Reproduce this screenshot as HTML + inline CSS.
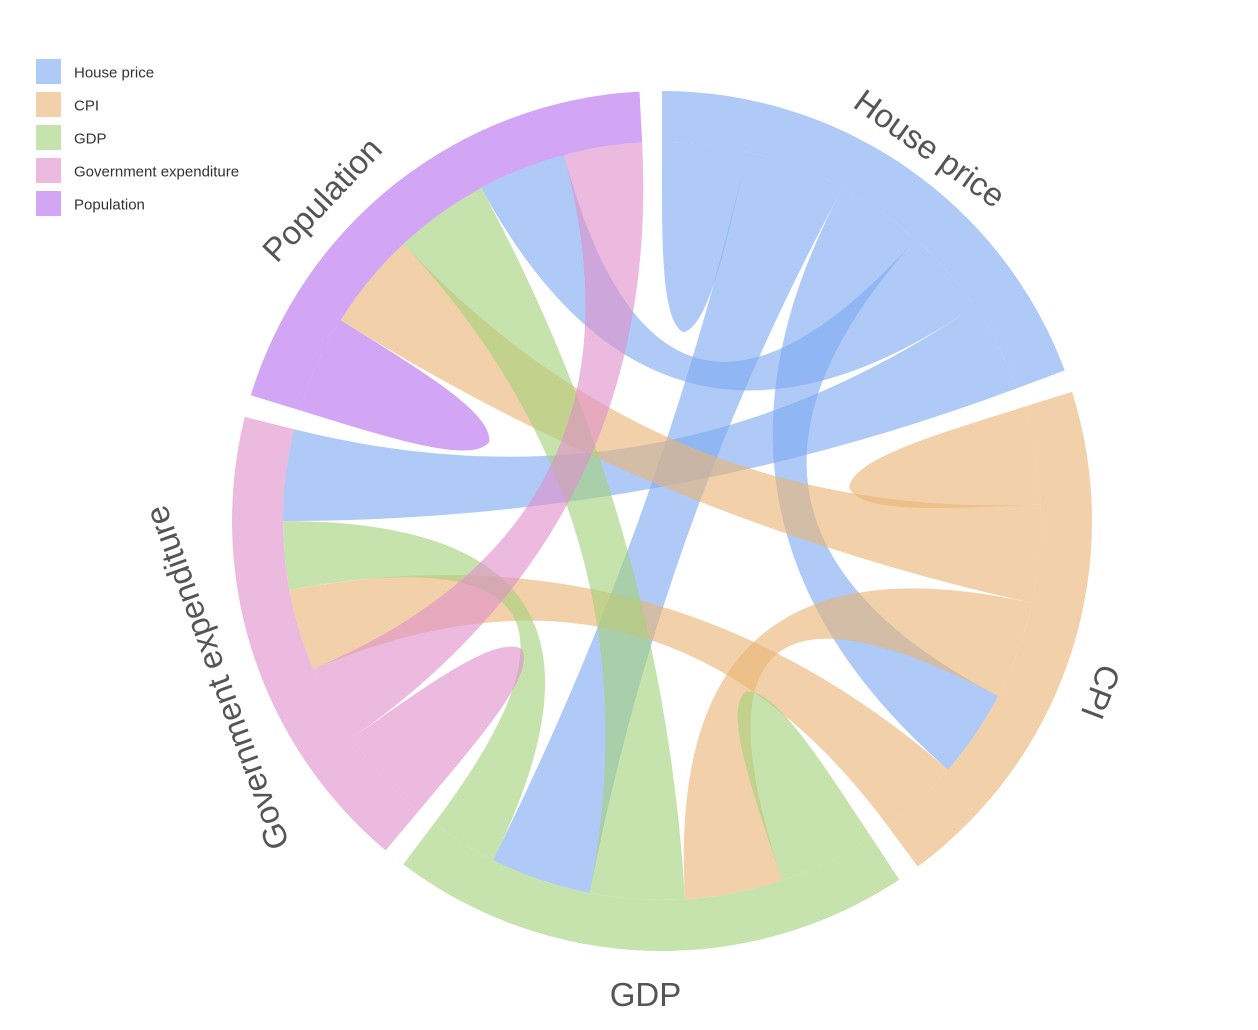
<!DOCTYPE html>
<html><head><meta charset="utf-8"><style>
html,body{margin:0;padding:0;background:#fff;}
svg{display:block;font-family:"Liberation Sans",sans-serif;}
</style></head><body>
<svg id="chart" width="1258" height="1030" viewBox="0 0 1258 1030">
<g id="legend"></g>
<g id="ribbons"></g>
<g id="arcs"></g>
<g id="labels"></g>
</svg>
<script>
const nodes = ["House price","CPI","GDP","Government expenditure","Population"];
const colors = ["#7ea9f0","#eab576","#a5d27a","#e090ca","#b670ee"];
const linkSource = [0,0,0,0,0, 1,1,1,1, 2,2,2, 3,3, 4];
const linkTarget = [0,2,1,4,3, 1,4,2,3, 2,4,3, 3,4, 4];
const linkValue  = [13,15.5,13.5,13.5,14, 15,15,15,12.5, 15,14.5,10.5, 15,12, 15];
// neighbor order around each node (clockwise)
const nodeOrder = [[0,2,1,4,3],[1,4,2,0,3],[2,1,4,0,3],[3,4,1,2,0],[4,1,2,0,3]];
const labelAngles = [35.7,111.3,182,250.6,313.4];
const labelRadius = [459,471,474,472,468];
const labelRot = [35.7,110.9,0,250,-46.6];

const NS="http://www.w3.org/2000/svg";
const cx=662, cy=521, rIn=379, rOut=430, gap=3, opacity=0.62;
function pt(a,r){const t=a*Math.PI/180;return [cx+r*Math.sin(t), cy-r*Math.cos(t)];}
function mk(tag,attrs,parent){const e=document.createElementNS(NS,tag);for(const k in attrs)e.setAttribute(k,attrs[k]);parent.appendChild(e);return e;}

const totals=nodes.map(()=>0);
linkValue.forEach((v,i)=>{totals[linkSource[i]]+=v; if(linkTarget[i]!==linkSource[i]) totals[linkTarget[i]]+=v;});
const sum=totals.reduce((a,b)=>a+b,0);
const k=(360-gap*nodes.length)/sum;

const nodeStart=[], nodeEnd=[], seg={};
let cur=0;
nodes.forEach((n,i)=>{
  nodeStart[i]=cur;
  nodeOrder[i].forEach(j=>{
    const li=linkValue.findIndex((v,x)=>(linkSource[x]===i&&linkTarget[x]===j)||(linkSource[x]===j&&linkTarget[x]===i));
    const w=linkValue[li]*k;
    seg[i+"-"+j]=[cur,cur+w];
    cur+=w;
  });
  nodeEnd[i]=cur;
  cur+=gap;
});

const rg=document.getElementById('ribbons');
linkValue.forEach((v,i)=>{
  const s=linkSource[i], t=linkTarget[i];
  let d;
  if(s===t){
    const [a0,a1]=seg[s+"-"+s];
    const m=(a0+a1)/2, w=(a1-a0);
    const p0=pt(a0,rIn),p1=pt(a1,rIn),tip=pt(m,190);
    d=`M${p0} A${rIn},${rIn} 0 0 1 ${p1} C${pt(a1,290)} ${pt(m+w*0.55,200)} ${tip} C${pt(m-w*0.55,200)} ${pt(a0,290)} ${p0} Z`;
  } else {
    const [a0,a1]=seg[s+"-"+t],[b0,b1]=seg[t+"-"+s];
    const p0=pt(a0,rIn),p1=pt(a1,rIn),q0=pt(b0,rIn),q1=pt(b1,rIn);
    d=`M${p0} A${rIn},${rIn} 0 0 1 ${p1} Q${cx},${cy} ${q0} A${rIn},${rIn} 0 0 1 ${q1} Q${cx},${cy} ${p0} Z`;
  }
  const e=mk('path',{d:d,fill:colors[s],'fill-opacity':opacity},rg);
  
  
});

const ag=document.getElementById('arcs'), lg=document.getElementById('labels');
nodes.forEach((n,i)=>{
  const a0=nodeStart[i],a1=nodeEnd[i],big=(a1-a0)>180?1:0;
  const d=`M${pt(a0,rOut)} A${rOut},${rOut} 0 ${big} 1 ${pt(a1,rOut)} L${pt(a1,rIn)} A${rIn},${rIn} 0 ${big} 0 ${pt(a0,rIn)} Z`;
  const e=mk('path',{d:d,fill:colors[i],'fill-opacity':opacity},ag);
  
  
  const p=pt(labelAngles[i],labelRadius[i]);
  const tx=mk('text',{x:0,y:0,transform:`translate(${p[0]},${p[1]}) rotate(${labelRot[i]})`,'text-anchor':'middle','dominant-baseline':'central','font-size':33,fill:'#555'},lg);
  tx.textContent=n;
  
  
});

const leg=document.getElementById('legend');
nodes.forEach((n,i)=>{
  const g=mk('g',{},leg);
  
  
  mk('rect',{x:36,y:59+i*33,width:25,height:25,fill:colors[i],'fill-opacity':opacity},g);
  const t=mk('text',{x:74,y:73+i*33,'dominant-baseline':'central','font-size':15,fill:'#333'},g);
  t.textContent=n;
});
</script>
</body></html>
